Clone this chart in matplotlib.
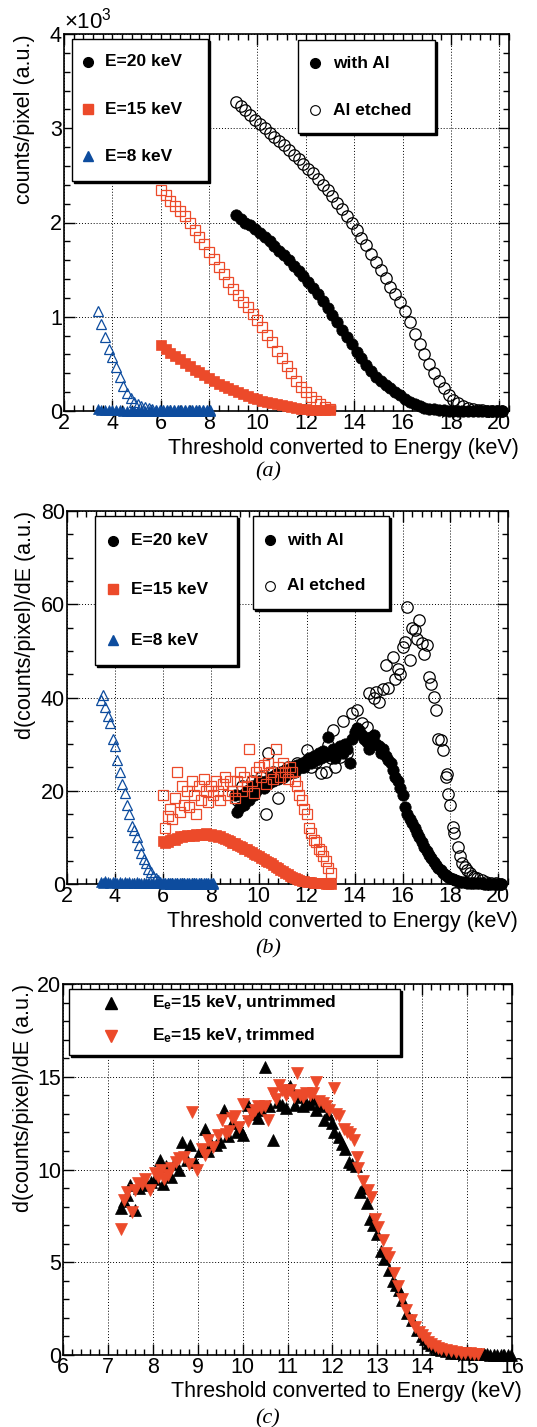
import numpy as np
import matplotlib
matplotlib.use('Agg')
import matplotlib.pyplot as plt
from matplotlib.patches import Rectangle
from matplotlib.ticker import MultipleLocator
from matplotlib.transforms import ScaledTranslation

plt.rcParams['font.family'] = ['Liberation Sans', 'DejaVu Sans']
plt.rcParams['mathtext.fontset'] = 'custom'
plt.rcParams['mathtext.rm'] = 'Liberation Sans'
plt.rcParams['mathtext.bf'] = 'Liberation Sans:bold'
plt.rcParams['mathtext.it'] = 'Liberation Sans:italic'

RED = '#ec4a2a'
BLUE = '#0d4c9e'

# ---------------- Panel (a): counts/pixel (x10^3) ----------------
A_X_20 = np.round(np.arange(9.1, 20.15, 0.2), 2)
A_WITH_AL = [2.08, 2.04, 2.00, 1.97, 1.93, 1.89, 1.85, 1.80, 1.75, 1.70,
             1.65, 1.60, 1.54, 1.49, 1.43, 1.37, 1.31, 1.24, 1.17, 1.09,
             1.02, 0.94, 0.86, 0.78, 0.71, 0.63, 0.56, 0.49, 0.42, 0.36,
             0.32, 0.28, 0.24, 0.20, 0.17, 0.13, 0.10, 0.07, 0.05, 0.035,
             0.025, 0.017, 0.012, 0.008, 0.005, 0.003, 0.002, 0.002, 0.001, 0.001,
             0.001, 0.001, 0.001, 0.001, 0.001, 0.001]
A_AL_ETCHED = [3.28, 3.24, 3.19, 3.14, 3.09, 3.04, 3.00, 2.95, 2.91, 2.86,
               2.82, 2.77, 2.72, 2.67, 2.62, 2.57, 2.52, 2.46, 2.40, 2.34,
               2.28, 2.21, 2.14, 2.07, 2.00, 1.92, 1.84, 1.76, 1.67, 1.58,
               1.50, 1.41, 1.32, 1.24, 1.16, 1.06, 0.94, 0.82, 0.71, 0.60,
               0.50, 0.40, 0.32, 0.24, 0.17, 0.12, 0.08, 0.05, 0.03, 0.02,
               0.012, 0.008, 0.005, 0.003, 0.002, 0.001]
A_X_15 = np.round(np.arange(6.0, 13.05, 0.2), 2)
A_15_OPEN = [2.34, 2.29, 2.23, 2.18, 2.12, 2.07, 2.00, 1.92, 1.85, 1.77,
             1.69, 1.61, 1.53, 1.45, 1.37, 1.29, 1.23, 1.16, 1.10, 1.03,
             0.97, 0.89, 0.81, 0.73, 0.64, 0.56, 0.48, 0.40, 0.32, 0.25,
             0.20, 0.15, 0.11, 0.07, 0.04, 0.02]
A_15_FILLED = [0.70, 0.66, 0.62, 0.58, 0.55, 0.51, 0.48, 0.44, 0.41, 0.38,
               0.35, 0.32, 0.29, 0.27, 0.24, 0.22, 0.20, 0.18, 0.16, 0.14,
               0.13, 0.11, 0.10, 0.08, 0.07, 0.06, 0.05, 0.04, 0.03, 0.025,
               0.02, 0.015, 0.012, 0.01, 0.01, 0.01]
A_X_8 = np.round(np.arange(3.4, 8.1, 0.15), 2)
A_8_OPEN = [1.06, 0.92, 0.78, 0.66, 0.57, 0.47, 0.36, 0.27, 0.19, 0.14,
            0.10, 0.07, 0.05, 0.04, 0.03, 0.02, 0.015, 0.012,
            0.01, 0.01, 0.01, 0.01, 0.01, 0.01, 0.01, 0.01, 0.01, 0.01,
            0.01, 0.01, 0.01, 0.01]
A_8_FILLED = [0.02, 0.01, 0.01, 0.01, 0.01, 0.01, 0.01, 0.005, 0.005, 0.005,
              0.005, 0.005, 0.005, 0.005, 0.005, 0.005, 0.005, 0.005,
              0.005, 0.005, 0.005, 0.005, 0.005, 0.005, 0.005, 0.005, 0.005, 0.005,
              0.005, 0.005, 0.005, 0.005]

# ---------------- Panel (b): derivative ----------------
B_X_8 = np.round(np.arange(3.4, 8.15, 0.1), 2)
B_8_OPEN = [39.5, 40.5, 38.0, 36.0, 34.5, 31.0, 29.5, 26.5, 24.0, 21.5,
            19.5, 17.0, 15.0, 12.5, 11.5, 10.0, 8.3, 6.6, 5.3, 4.4,
            3.3, 2.5, 1.8, 1.2, 0.8, 0.5, 0.3,
            0.2, 0.2, 0.2, 0.2, 0.2, 0.2, 0.2, 0.2, 0.2, 0.2,
            0.2, 0.2, 0.2, 0.2, 0.2, 0.2, 0.2, 0.2, 0.2, 0.2, 0.2]
B_8_FILLED = [0.5, 0.3, 0.6, 0.4, 0.3, 0.5, 0.4, 0.3, 0.5, 0.3,
              0.4, 0.3, 0.4, 0.2, 0.3, 0.4, 0.2, 0.3, 0.2, 0.3,
              0.2, 0.3, 0.2, 0.2, 0.3, 0.2, 0.2, 0.1, 0.2, 0.1,
              0.2, 0.1, 0.2, 0.1, 0.1, 0.2, 0.1, 0.1, 0.1, 0.2,
              0.1, 0.1, 0.1, 0.1, 0.1, 0.1, 0.1, 0.1]
B_X_15 = np.round(np.arange(6.0, 13.05, 0.1), 2)
B_15_FILLED = [9.2, 8.9, 9.0, 9.4, 9.7, 9.5, 9.9, 10.2, 10.0, 10.3,
               10.5, 10.3, 10.6, 10.4, 10.7, 10.5, 10.8, 10.6, 10.9, 10.6,
               10.7, 10.4, 10.5, 10.1, 10.2, 9.9, 9.7, 9.4, 9.2, 8.9,
               8.7, 8.4, 8.2, 7.9, 7.6, 7.4, 7.1, 6.8, 6.5, 6.2,
               5.9, 5.6, 5.3, 5.0, 4.7, 4.4, 4.1, 3.7, 3.4, 3.0,
               2.7, 2.4, 2.1, 1.8, 1.5, 1.3, 1.1, 0.9, 0.75, 0.6,
               0.5, 0.4, 0.33, 0.27, 0.22, 0.18, 0.15, 0.12, 0.1, 0.08, 0.07]
B_15_OPEN = [19.0, 12.0, 14.5, 16.0, 14.0, 18.5, 24.0, 15.5, 21.0, 17.0,
             20.0, 16.5, 22.0, 19.0, 15.0, 21.0, 18.0, 22.5, 20.0, 17.5,
             21.0, 19.0, 22.0, 20.0, 18.0, 21.5, 23.0, 19.0, 22.0, 20.0,
             18.5, 22.0, 24.0, 20.0, 23.0, 21.0, 29.0, 22.0, 19.5, 24.0,
             25.0, 23.0, 25.5, 21.5, 26.0, 24.0, 22.5, 29.0, 25.0, 23.0,
             26.0, 24.0, 22.5, 25.0, 24.0, 22.0, 21.0, 19.0, 18.0, 16.0,
             15.0, 12.0, 11.0, 9.5, 9.0, 7.5, 7.0, 6.0, 5.0, 3.5, 2.3]
B_X_20 = np.round(np.arange(9.0, 20.15, 0.1), 2)
B_WITH_AL = [19, 15.5, 16.5, 19, 17, 20, 18, 21, 19, 20,
             22, 21, 20.5, 22, 21.5, 23, 22, 23.5, 22.5, 24,
             23, 24.5, 23.5, 24, 25, 24, 25.5, 25, 26, 25,
             26.5, 27, 26, 27.5, 26.5, 28, 27, 28.5, 27.5, 31.5,
             28, 29, 27, 28.5, 29.5, 28, 30, 29, 26, 31,
             32.5, 33.5, 33, 32, 31, 30.5, 29, 31.5, 32, 30,
             29.5, 28, 29, 27.5, 26.5, 26, 24.5, 23, 22, 20.5,
             19, 16.5, 15.0, 14.0, 13.0, 12.0, 11.0, 10.0, 9.0, 8.0,
             7.1, 6.3, 5.5, 4.8, 4.1, 3.5, 2.9, 2.4, 2.0, 1.6,
             1.3, 1.0, 0.8, 0.65, 0.5, 0.4, 0.35, 0.3, 0.25, 0.2,
             0.15, 0.15, 0.12, 0.12, 0.1, 0.1, 0.1, 0.1, 0.1, 0.1, 0.1, 0.1]
B_ETCH_X = [9.1, 9.3, 9.5, 9.7, 9.9, 10.1, 10.3, 10.4, 10.6, 10.8,
            11.0, 11.2, 11.4, 11.6, 11.8, 12.0, 12.2, 12.4, 12.6, 12.8,
            12.9, 13.0, 13.1, 13.2, 13.4, 13.5, 13.7, 13.9, 14.1, 14.3,
            14.5, 14.6, 14.8, 14.9, 15.0, 15.2, 15.3, 15.4, 15.6, 15.7,
            15.8, 15.9, 16.0, 16.1, 16.2, 16.3, 16.4, 16.5, 16.6, 16.7,
            16.8, 16.9, 17.0, 17.1, 17.2, 17.3, 17.4, 17.5, 17.6, 17.7,
            17.8, 17.85, 17.9, 18.0, 18.1, 18.15, 18.3, 18.4, 18.5, 18.6,
            18.7, 18.8, 18.9, 19.0, 19.1, 19.3, 19.5, 19.7, 19.9, 20.1]
B_ETCH_Y = [18, 21, 20, 22, 21, 23, 15.1, 28, 24, 18.4,
            23, 25, 24, 26, 25, 28.7, 25, 26.2, 23.7, 24,
            29.8, 27, 33, 25, 27.3, 35, 28, 36.6, 37.3, 34.5,
            33.7, 40.9, 39.8, 41.2, 39, 41.9, 46.9, 42, 48.7, 44,
            46.2, 45.1, 50.9, 52, 59.4, 48, 55, 54.4, 52.5, 56.6,
            51.6, 49.4, 51.2, 44.4, 43, 40.1, 37.3, 31, 30.9, 28.7,
            23, 23.5, 19.4, 16.9, 12.3, 10.9, 8, 5.9, 4.5, 3.7,
            3, 2.3, 1.8, 1.4, 1.2, 0.8, 0.5, 0.3, 0.15, 0.1]

# ---------------- Panel (c): untrimmed vs trimmed ----------------
C_UNTRIM_X = [7.29, 7.36, 7.43, 7.50, 7.61, 7.70, 7.86, 7.95, 8.05, 8.15,
              8.22, 8.29, 8.40, 8.47, 8.58, 8.65, 8.76, 8.83, 8.95, 9.05,
              9.16, 9.23, 9.30, 9.40, 9.50, 9.59, 9.68, 9.77, 9.87, 9.95,
              10.02, 10.13, 10.22, 10.35, 10.42, 10.49, 10.58, 10.67, 10.78, 10.88,
              10.96, 11.06, 11.17, 11.27, 11.35, 11.42, 11.49, 11.56, 11.64, 11.73,
              11.82, 11.91, 12.00, 12.04, 12.14, 12.22, 12.29, 12.36, 12.43, 12.52,
              12.61, 12.69, 12.76, 12.83, 12.90, 12.99, 13.08, 13.16, 13.27, 13.34,
              13.41, 13.48, 13.55, 13.66, 13.77, 13.88, 13.99, 14.06, 14.13, 14.20,
              14.28, 14.35, 14.42, 14.53, 14.64, 14.75, 14.86, 15.00, 15.15, 15.30,
              15.38, 15.45, 15.52, 15.60, 15.67, 15.75, 15.82, 15.90, 15.97]
C_UNTRIM_Y = [7.9, 8.3, 8.6, 9.15, 7.8, 9.0, 9.15, 9.3, 9.5, 10.5,
              9.2, 10.2, 9.6, 10.3, 10.0, 11.5, 10.5, 11.3, 10.4, 11.0,
              12.2, 11.0, 11.4, 11.3, 11.5, 13.2, 11.8, 12.5, 12.0, 12.2,
              11.85, 13.5, 13.0, 12.8, 13.2, 15.5, 13.4, 11.6, 13.65, 13.5,
              13.3, 14.5, 13.5, 13.9, 13.4, 13.6, 13.55, 13.8, 13.2, 13.4,
              12.65, 13.0, 12.5, 12.0, 11.75, 11.4, 11.1, 10.4, 10.3, 10.2,
              8.8, 9.0, 8.2, 7.35, 7.0, 6.5, 5.6, 5.2, 4.6, 4.0,
              3.8, 3.5, 2.96, 2.24, 1.9, 1.35, 1.0, 0.85, 0.63, 0.55,
              0.45, 0.35, 0.27, 0.2, 0.13, 0.11, 0.09, 0.07, 0.05, 0.04,
              0.03, 0.03, 0.02, 0.02, 0.02, 0.01, 0.01, 0.01, 0.01]
C_TRIM_X = [7.29, 7.36, 7.43, 7.54, 7.61, 7.68, 7.76, 7.83, 7.94, 8.04,
            8.12, 8.19, 8.26, 8.33, 8.40, 8.51, 8.58, 8.69, 8.80, 8.87,
            8.98, 9.09, 9.16, 9.23, 9.34, 9.45, 9.55, 9.62, 9.70, 9.77,
            9.84, 9.93, 10.02, 10.13, 10.20, 10.27, 10.35, 10.42, 10.49, 10.56,
            10.67, 10.74, 10.81, 10.88, 10.96, 11.06, 11.14, 11.21, 11.28, 11.35,
            11.42, 11.49, 11.57, 11.64, 11.71, 11.79, 11.86, 11.93, 12.04, 12.07,
            12.14, 12.25, 12.33, 12.40, 12.47, 12.54, 12.58, 12.69, 12.80, 12.87,
            12.94, 13.01, 13.12, 13.19, 13.27, 13.37, 13.45, 13.55, 13.63, 13.74,
            13.84, 13.92, 13.99, 14.06, 14.13, 14.20, 14.28, 14.35, 14.42, 14.53,
            14.64, 14.75, 14.86, 14.96, 15.07, 15.16, 15.25]
C_TRIM_Y = [6.8, 8.35, 8.8, 7.7, 8.9, 9.25, 9.2, 9.5, 8.9, 9.8,
            9.6, 9.95, 9.5, 9.7, 10.1, 10.4, 10.6, 10.7, 10.3, 13.1,
            9.95, 11.1, 10.8, 11.6, 11.2, 11.85, 12.65, 11.9, 12.1, 12.8,
            12.9, 12.3, 13.55, 12.6, 13.0, 13.2, 13.4, 13.3, 13.4, 12.65,
            14.1, 13.8, 14.55, 14.3, 14.0, 14.3, 13.9, 15.2, 14.0, 13.9,
            14.1, 14.0, 14.1, 14.7, 13.7, 13.6, 13.4, 13.2, 14.4, 13.0,
            12.9, 12.2, 12.0, 11.9, 11.6, 10.7, 10.1, 9.4, 8.9, 8.5,
            7.35, 6.9, 6.2, 5.5, 5.3, 4.4, 3.7, 3.0, 2.4, 1.9,
            1.5, 1.25, 1.1, 0.9, 0.7, 0.6, 0.5, 0.4, 0.34, 0.25,
            0.2, 0.16, 0.13, 0.11, 0.09, 0.08, 0.07]

W, H = 537, 1427
fig = plt.figure(figsize=(W / 100, H / 100), dpi=100)


def px_axes(l, t, r, b):
    return fig.add_axes([l / W, 1 - b / H, (r - l) / W, (b - t) / H])


def style(ax, xlim, ylim, xmaj, xmin, ymaj, ymin):
    ax.set_xlim(*xlim)
    ax.set_ylim(*ylim)
    ax.xaxis.set_major_locator(MultipleLocator(xmaj))
    ax.xaxis.set_minor_locator(MultipleLocator(xmin))
    ax.yaxis.set_major_locator(MultipleLocator(ymaj))
    ax.yaxis.set_minor_locator(MultipleLocator(ymin))
    ax.tick_params(which='both', direction='in', top=True, right=True,
                   labelsize=15.5, width=1.0, color='black')
    ax.tick_params(which='major', length=8)
    ax.tick_params(which='minor', length=4.5)
    ax.tick_params(axis='x', which='both', pad=1.5)
    ax.tick_params(axis='y', which='both', pad=1.5)
    ax.grid(True, which='major', linestyle=(0, (1, 2)), color='black', linewidth=0.7)
    ax.set_axisbelow(True)
    for s in ax.spines.values():
        s.set_linewidth(1.2)
    tr = ax.transAxes + ScaledTranslation(0, -0.265, fig.dpi_scale_trans)
    ax.text(1.022, 0.0, 'Threshold converted to Energy (keV)', transform=tr,
            ha='right', va='top', fontsize=15.5)


def ylab(ax, text, x):
    ax.text(x, 1.0, text, transform=ax.transAxes, rotation=90, ha='center', va='top', fontsize=15.5)


def legend_box(ax, x0, y0, x1, y1, mx, tx, entries, fs=12.5):
    shadow_tr = ax.transAxes + ScaledTranslation(2 / 100, -2 / 100, fig.dpi_scale_trans)
    ax.add_patch(Rectangle((x0, y0), x1 - x0, y1 - y0, transform=shadow_tr,
                           facecolor='black', edgecolor='black', lw=1.0, zorder=8, clip_on=False))
    ax.add_patch(Rectangle((x0, y0), x1 - x0, y1 - y0, transform=ax.transAxes,
                           facecolor='white', edgecolor='black', lw=1.0, zorder=9, clip_on=False))
    for mk, label, ym in entries:
        ax.plot([mx], [ym], transform=ax.transAxes, linestyle='none', zorder=10, clip_on=False, **mk)
        ax.text(tx, ym, label, transform=ax.transAxes, ha='left', va='center',
                fontsize=fs, fontweight='bold', zorder=10)


def pts(ax, x, y, marker, color, filled, ms, z=3):
    ax.plot(x, y, linestyle='none', marker=marker, ms=ms,
            mfc=color if filled else 'none', mec=color, mew=0.9 if not filled else 0.5,
            clip_on=False, zorder=z)


# ---------------- (a) ----------------
ax = px_axes(64, 34, 509, 411)
style(ax, (2, 20.4), (0, 4), 2, 0.4, 1, 0.2)
pts(ax, A_X_20, A_AL_ETCHED, 'o', 'black', False, 8.2)
pts(ax, A_X_20, A_WITH_AL, 'o', 'black', True, 8.2)
pts(ax, A_X_15, A_15_FILLED, 's', RED, True, 7.6)
pts(ax, A_X_15, A_15_OPEN, 's', RED, False, 7.6)
pts(ax, A_X_8, A_8_FILLED, '^', BLUE, True, 7.2)
pts(ax, A_X_8, A_8_OPEN, '^', BLUE, False, 7.2)
ylab(ax, 'counts/pixel (a.u.)', -0.088)
ax.text(0.0, 1.0, '×10$^{3}$', transform=ax.transAxes, ha='left', va='bottom', fontsize=16)
legend_box(ax, 0.018, 0.610, 0.324, 0.987, 0.054, 0.092, [
    (dict(marker='o', ms=7, mfc='black', mec='black'), 'E=20 keV', 0.926),
    (dict(marker='s', ms=6.5, mfc=RED, mec=RED), 'E=15 keV', 0.801),
    (dict(marker='^', ms=6.5, mfc=BLUE, mec=BLUE), 'E=8 keV', 0.676)])
legend_box(ax, 0.526, 0.737, 0.834, 0.984, 0.564, 0.604, [
    (dict(marker='o', ms=7, mfc='black', mec='black'), 'with Al', 0.923),
    (dict(marker='o', ms=7, mfc='none', mec='black', mew=0.8), 'Al etched', 0.798)])
fig.text(268 / W, 1 - 472 / H, '(a)', ha='center', va='center', fontsize=16,
         family='Liberation Serif', style='italic')

# ---------------- (b) ----------------
ax = px_axes(67, 511, 508, 884)
style(ax, (2, 20.4), (0, 80), 2, 0.4, 20, 5)
pts(ax, B_X_20, B_WITH_AL, 'o', 'black', True, 8.2)
pts(ax, B_ETCH_X, B_ETCH_Y, 'o', 'black', False, 8.2)
pts(ax, B_X_15, B_15_FILLED, 's', RED, True, 7.6)
pts(ax, B_X_15, B_15_OPEN, 's', RED, False, 7.6)
pts(ax, B_X_8, B_8_FILLED, '^', BLUE, True, 7.2)
pts(ax, B_X_8, B_8_OPEN, '^', BLUE, False, 7.2)
ylab(ax, 'd(counts/pixel)/dE (a.u.)', -0.095)
legend_box(ax, 0.0635, 0.587, 0.3855, 0.9866, 0.105, 0.1444, [
    (dict(marker='o', ms=7, mfc='black', mec='black'), 'E=20 keV', 0.920),
    (dict(marker='s', ms=6.5, mfc=RED, mec=RED), 'E=15 keV', 0.790),
    (dict(marker='^', ms=6.5, mfc=BLUE, mec=BLUE), 'E=8 keV', 0.654)])
legend_box(ax, 0.4218, 0.737, 0.730, 0.9866, 0.460, 0.4997, [
    (dict(marker='o', ms=7, mfc='black', mec='black'), 'with Al', 0.922),
    (dict(marker='o', ms=7, mfc='none', mec='black', mew=0.8), 'Al etched', 0.799)])
fig.text(268 / W, 1 - 949 / H, '(b)', ha='center', va='center', fontsize=16,
         family='Liberation Serif', style='italic')

# ---------------- (c) ----------------
ax = px_axes(63, 984, 512, 1355)
style(ax, (6, 16), (0, 20), 1, 0.2, 5, 1)
pts(ax, C_UNTRIM_X, C_UNTRIM_Y, '^', 'black', True, 8.2)
pts(ax, C_TRIM_X, C_TRIM_Y, 'v', RED, True, 8.2)
ylab(ax, 'd(counts/pixel)/dE (a.u.)', -0.089)
legend_box(ax, 0.0134, 0.8086, 0.7506, 0.9865, 0.107, 0.1975, [
    (dict(marker='^', ms=8, mfc='black', mec='black'), r'E$_{\mathbf{e}}$=15 keV, untrimmed', 0.948),
    (dict(marker='v', ms=8, mfc=RED, mec=RED), r'E$_{\mathbf{e}}$=15 keV, trimmed', 0.860)])
fig.text(268 / W, 1 - 1419 / H, '(c)', ha='center', va='center', fontsize=16,
         family='Liberation Serif', style='italic')

fig.savefig('out.png', dpi=100)
